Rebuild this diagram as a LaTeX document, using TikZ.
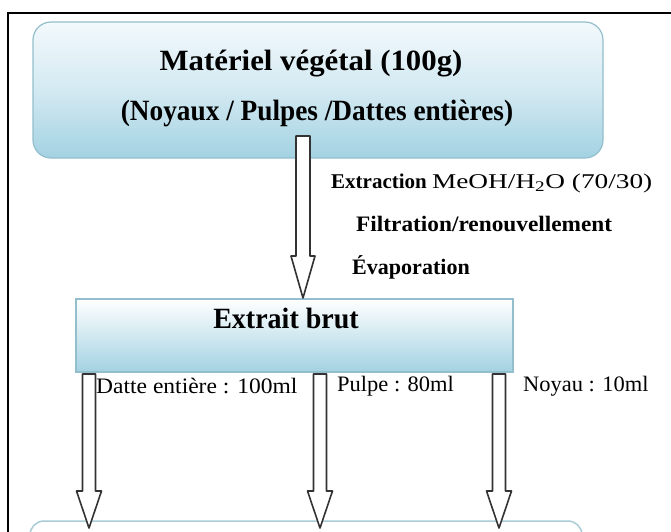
\documentclass[tikz,border=0pt]{standalone}
\usepackage{fontspec}
\setmainfont{Liberation Serif}
\usetikzlibrary{calc}
\definecolor{boxtop}{HTML}{F3F9FC}
\definecolor{boxbot}{HTML}{A3D2E2}
\definecolor{boxline}{HTML}{93BFCC}
\definecolor{arrline}{HTML}{333333}
\tikzset{
  roundbox/.style={draw=boxline, line width=1.2pt, rounded corners=18pt, top color=boxtop, bottom color=boxbot, middle color=boxtop!60!boxbot},
  sqbox/.style={draw=boxline, line width=1.2pt, top color=white, bottom color=boxbot},
  lastbox/.style={draw=boxline!80, line width=1.5pt, rounded corners=14pt, fill=white},
  arrowline/.style={draw=arrline, line width=1.6pt, fill=white, line join=round},
  bigtext/.style={font=\fontsize{28}{30}\selectfont\bfseries, inner sep=0pt},
  steptext/.style={font=\fontsize{21}{23}\selectfont\bfseries, anchor=west, inner sep=0pt},
  vollabel/.style={font=\fontsize{21}{23}\selectfont, anchor=west, inner sep=0pt},
}
\newcommand{\harrow}[5]{%
  \path[arrowline] let \p1=(#1), \p2=(#2) in
    (\x1-#3,\y1) -- (\x2-#3,\y2+#5) -- (\x2-#4,\y2+#5) -- (\x2,\y2)
    -- (\x2+#4,\y2+#5) -- (\x2+#3,\y2+#5) -- (\x1+#3,\y1) -- cycle;}
\begin{document}
\begin{tikzpicture}[x=1pt,y=-1pt]
\useasboundingbox (0,0) rectangle (671,531);
\clip (0,0) rectangle (671,531);
\fill[white] (0,0) rectangle (671,531);
% outer frame
\coordinate (fr1) at (8,560);
\coordinate (fr2) at (8,13);
\coordinate (fr3) at (700,13);
\draw[line width=2pt, black] (fr1) -- (fr2) -- (fr3);
% boxes
\path[roundbox] (33,22) rectangle (603,158);
\node[bigtext] (t1) at (311,64) {\scalebox{1.1}[1.05]{Matériel végétal (100g)}};
\node[bigtext] (t2) at (317,113) {\scalebox{0.975}[1.05]{(Noyaux / Pulpes /Dattes entières)}};
\coordinate (b1s) at (303,136);
\path[sqbox] (76,299) rectangle (513,372);
\node[bigtext] (t3) at (286,318) {\scalebox{1}[1.05]{Extrait brut}};
\coordinate (b2n) at (303,298);
\path[lastbox] (30,521) rectangle (582,600);
% step labels
\node[steptext] (l1) at (331,183) {Extraction \mdseries\scalebox{1.3}[1]{MeOH/H\textsubscript{2}O (70/30)}};
\node[steptext] (l2) at (356,224) {\scalebox{1.11}[1.05]{Filtration/renouvellement}};
\node[steptext] (l3) at (352,267) {\scalebox{1.05}[1.05]{Évaporation}};
% main arrow
\harrow{b1s}{b2n}{7pt}{12pt}{42pt}
% bottom arrows
\coordinate (a1s) at (89,374); \coordinate (a1e) at (89,528);
\coordinate (a2s) at (320,374); \coordinate (a2e) at (320,528);
\coordinate (a3s) at (499,374); \coordinate (a3e) at (499,528);
\harrow{a1s}{a1e}{6.5pt}{12.5pt}{37pt}
\harrow{a2s}{a2e}{6.5pt}{12.5pt}{37pt}
\harrow{a3s}{a3e}{6.5pt}{12.5pt}{37pt}
\node[vollabel] (v1) at (96,386) {\scalebox{1.12}[1.05]{Datte entière : 100ml}};
\node[vollabel] (v2) at (337,386) {\scalebox{1.07}[1.05]{Pulpe : 80ml}};
\node[vollabel] (v3) at (523,386) {\scalebox{1.07}[1.05]{Noyau : 10ml}};
\end{tikzpicture}
\end{document}
